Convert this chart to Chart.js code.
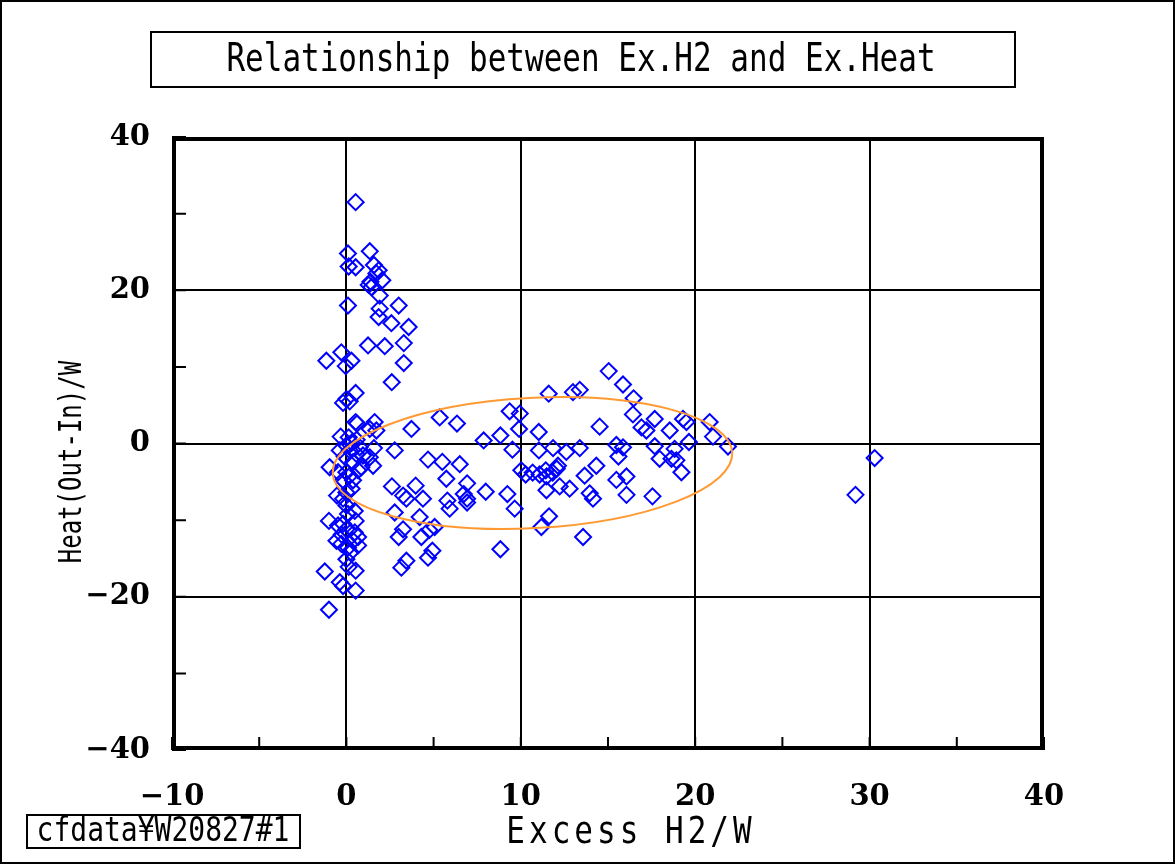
<!DOCTYPE html>
<html>
<head>
<meta charset="utf-8">
<script src="https://cdn.jsdelivr.net/npm/chart.js@4/dist/chart.umd.min.js"></script>
<style>
  html, body { margin: 0; padding: 0; background: #ffffff; }
  #wrap { width: 1175px; height: 864px; position: relative; }
</style>
</head>
<body>
<div id="wrap"><canvas id="c" width="1175" height="864"></canvas></div>
<script>
// ---- data ----
const excessH2 = [
  0.53, 0.09, 1.34, 0.13, 0.53, 1.58, 1.85, 1.72, 2.06, 1.38,
  1.28, 1.43, 1.91, 0.09, 3.0, 1.91, 1.85, 2.58, 3.57, 1.24,
  2.2, 3.29, -0.29, -1.15, 0.29, -0.04, 3.29, 2.6, 0.53, 0.0,
  -0.19, 0.19, 0.53, 0.61, 1.62, 1.34, 1.72, 3.73, 1.58, 2.77,
  4.68, 1.53, -0.96, 2.61, 3.97, 3.25, 3.44, 4.39, 2.77, 4.2,
  5.06, 3.25, 3.0, 4.3, 4.93, 4.68, 3.44, 3.15, -1.0, -1.24,
  0.53, -0.38, -0.19, 0.53, -1.0, 0.0, 0.19, -0.38, 0.57, 0.95,
  0.38, 1.34, -0.48, 0.0, 0.19, -0.19, 0.38, 0.67, 0.86, -0.54,
  -0.19, 0.0, 0.48, 0.09, -0.48, -0.19, 0.0, 0.48, 0.67, -0.57,
  -0.29, 0.09, 0.38, 0.67, 0.0, 0.13, 0.3, 0.76, -0.33, 0.59,
  -0.1, 0.3, 0.0, 0.53, -0.27, 0.25, 0.13,
  11.6, 9.36, 9.94, 9.9, 11.03, 5.35, 6.34, 7.87, 8.83, 9.52,
  11.04, 5.5, 6.5, 5.73, 6.92, 10.03, 10.68, 11.08, 11.48, 11.83,
  12.06, 11.43, 10.28, 11.47, 7.99, 9.23, 9.65, 6.73, 6.92, 6.92,
  5.79, 5.92, 4.75, 8.83, 11.62, 11.18,
  15.04, 15.86, 13.38, 12.99, 16.47, 16.43, 17.68, 19.3, 19.5, 20.83,
  14.52, 16.92, 17.2, 18.54, 21.02, 19.64, 15.48, 15.86, 17.68, 18.82,
  21.88, 13.38, 11.85, 12.61, 15.6, 17.96, 18.64, 18.92, 19.21, 14.33,
  13.66, 12.13, 15.48, 16.06, 12.8, 13.95, 14.14, 12.23, 16.06, 17.55,
  13.57, 30.29, 29.19
];
const excessHeat = [
  31.5, 24.8, 25.1, 23.1, 23.0, 23.3, 22.6, 22.2, 21.3, 21.1,
  20.7, 20.4, 19.3, 18.0, 18.0, 17.6, 16.5, 15.7, 15.2, 12.8,
  12.7, 13.1, 11.9, 10.8, 10.8, 10.1, 10.5, 8.0, 6.6, 5.8,
  5.3, 5.5, 2.8, 2.6, 2.8, 1.9, 1.7, 1.9, -0.6, -0.9,
  -2.1, -2.9, -3.1, -5.6, -5.5, -6.8, -7.2, -7.2, -9.0, -9.6,
  -10.9, -11.2, -12.2, -12.2, -14.0, -14.9, -15.3, -16.2, -10.1, -16.7,
  -16.6, -18.1, -18.6, -19.2, -21.7, -0.26, -0.9, -0.9, -1.35, -1.57,
  -2.44, -1.8, -3.75, -3.75, -4.2, -4.8, -4.8, -3.5, -3.1, -6.8,
  -7.2, -8.1, -8.8, -9.2, -10.7, -10.5, -11.2, -11.6, -12.2, -12.7,
  -13.1, -13.6, -12.7, -13.3, -15.1, 0.8, 0.1, -0.5, 0.9, 0.5,
  -1.7, -5.9, -6.4, -10.1, -11.9, -14.2, -16.1,
  6.5, 4.2, 3.9, 1.9, 1.5, 3.4, 2.6, 0.4, 1.05, -0.8,
  -0.9, -2.4, -2.7, -4.6, -5.2, -3.5, -3.8, -4.05, -4.3, -3.8,
  -3.3, -3.5, -4.05, -6.1, -6.3, -6.6, -8.5, -6.6, -7.2, -7.7,
  -7.45, -8.5, -11.3, -13.8, -9.5, -10.9,
  9.45, 7.7, 7.0, 6.7, 5.9, 3.8, 3.2, 3.2, 2.8, 2.8,
  2.2, 2.1, 1.7, 1.7, 0.9, 0.2, -0.2, -0.5, -0.35, -0.7,
  -0.4, -0.6, -0.6, -1.1, -1.7, -2.0, -2.0, -2.2, -3.75, -2.9,
  -4.2, -2.9, -4.75, -4.3, -5.9, -6.5, -7.2, -5.6, -6.7, -6.9,
  -12.2, -1.9, -6.7
];
const xTickValues = [-10, 0, 10, 20, 30, 40];
const yTickValues = [-40, -20, 0, 20, 40];
const chartTitle = 'Relationship between Ex.H2 and Ex.Heat';
const xAxisTitle = 'Excess H2/W';
const yAxisTitle = 'Heat(Out-In)/W';
const fileLabel = 'cfdata\u00A5W20827#1';
// hand-drawn ellipse (data units): centre, semi-axes, tilt in degrees
const ellipseCentre = [10.67, -2.55];
const ellipseSemiAxes = [11.47, 8.5];
const ellipseTiltDeg = -3;

// ---- chart ----
const points = excessH2.map((x, i) => ({ x: x, y: excessHeat[i] }));
const fmt = v => (v < 0 ? '\u2212' + Math.abs(v) : String(v));

function stretchedText(ctx, text, x, y, font, sy, rot, spacing) {
  ctx.save();
  ctx.translate(x, y);
  if (rot) ctx.rotate(rot);
  ctx.scale(1, sy);
  ctx.font = font;
  if (spacing) { try { ctx.letterSpacing = spacing + 'px'; } catch (e) {} }
  ctx.textAlign = 'center';
  ctx.textBaseline = 'middle';
  ctx.fillStyle = '#000';
  ctx.fillText(text, 0, 0);
  ctx.restore();
}

const decorPlugin = {
  id: 'decor',
  beforeDraw(chart) {
    const ctx = chart.ctx;
    ctx.save();
    ctx.fillStyle = '#ffffff';
    ctx.fillRect(0, 0, chart.width, chart.height);
    ctx.restore();
  },
  afterDatasetsDraw(chart) {
    const ctx = chart.ctx;
    const xs = chart.scales.x, ys = chart.scales.y;
    const a = chart.chartArea;
    // ellipse
    const cx = xs.getPixelForValue(ellipseCentre[0]);
    const cy = ys.getPixelForValue(ellipseCentre[1]);
    const rx = Math.abs(xs.getPixelForValue(ellipseCentre[0] + ellipseSemiAxes[0]) - cx);
    const ry = Math.abs(ys.getPixelForValue(ellipseCentre[1] + ellipseSemiAxes[1]) - cy);
    ctx.save();
    ctx.beginPath();
    ctx.ellipse(cx, cy, rx, ry, ellipseTiltDeg * Math.PI / 180, 0, Math.PI * 2);
    ctx.strokeStyle = '#FF9A33';
    ctx.lineWidth = 2;
    ctx.stroke();
    ctx.restore();

    // frame
    ctx.save();
    ctx.strokeStyle = '#000';
    ctx.lineWidth = 4;
    ctx.strokeRect(a.left + 2, a.top + 2, a.right - a.left - 4, a.bottom - a.top - 4);
    // inward tick marks
    ctx.lineWidth = 2;
    ctx.beginPath();
    for (let v = -10; v <= 40; v += 5) {
      const px = xs.getPixelForValue(v);
      ctx.moveTo(px, a.bottom);
      ctx.lineTo(px, a.bottom - 13);
    }
    for (let v = -40; v <= 40; v += 10) {
      const py = ys.getPixelForValue(v);
      ctx.moveTo(a.left, py);
      ctx.lineTo(a.left + 14, py);
    }
    ctx.stroke();
    ctx.restore();
  },
  afterDraw(chart) {
    const ctx = chart.ctx;
    ctx.save();
    // outer border
    ctx.strokeStyle = '#000';
    ctx.lineWidth = 2;
    ctx.strokeRect(1, 1, chart.width - 2, chart.height - 2);
    // title box
    ctx.lineWidth = 2;
    ctx.strokeRect(151, 32, 864, 55);
    ctx.restore();
    stretchedText(ctx, chartTitle, 581, 61, '31px "DejaVu Sans Mono"', 1.28, 0);
    // file label box
    ctx.save();
    ctx.strokeStyle = '#000';
    ctx.lineWidth = 2;
    ctx.strokeRect(27, 815, 273, 33);
    ctx.restore();
    stretchedText(ctx, fileLabel, 163, 832, '28px "DejaVu Sans Mono"', 1.2, 0);
    // axis titles
    stretchedText(ctx, xAxisTitle, 631, 833, '31px "DejaVu Sans Mono"', 1.2, 0, 4);
    stretchedText(ctx, yAxisTitle, 73, 462, '24px "DejaVu Sans Mono"', 1.35, -Math.PI / 2);
  }
};

new Chart(document.getElementById('c'), {
  type: 'scatter',
  data: {
    datasets: [{
      data: points,
      pointStyle: 'rectRot',
      pointRadius: 8,
      pointHoverRadius: 8,
      borderColor: '#0000FF',
      backgroundColor: 'rgba(0,0,0,0)',
      borderWidth: 2,
      pointBorderWidth: 2
    }]
  },
  options: {
    responsive: false,
    animation: false,
    devicePixelRatio: 1,
    layout: { padding: { top: 137, right: 131, left: 0, bottom: 0 } },
    plugins: { legend: { display: false }, tooltip: { enabled: false }, title: { display: false } },
    events: [],
    scales: {
      x: {
        type: 'linear', min: -10, max: 40,
        afterBuildTicks: s => { s.ticks = xTickValues.map(v => ({ value: v })); },
        afterFit: s => { s.height = 114; },
        border: { display: false },
        grid: {
          drawTicks: false,
          lineWidth: 2,
          color: c => (c.tick && (c.tick.value === -10 || c.tick.value === 40)) ? 'rgba(0,0,0,0)' : '#000'
        },
        ticks: {
          padding: 30,
          color: '#000',
          font: { family: '"DejaVu Serif"', size: 29, weight: 'bold' },
          callback: v => fmt(v)
        }
      },
      y: {
        type: 'linear', min: -40, max: 40,
        afterBuildTicks: s => { s.ticks = yTickValues.map(v => ({ value: v })); },
        afterFit: s => { s.width = 172; },
        border: { display: false },
        grid: {
          drawTicks: false,
          lineWidth: 2,
          color: c => (c.tick && (c.tick.value === -40 || c.tick.value === 40)) ? 'rgba(0,0,0,0)' : '#000'
        },
        ticks: {
          padding: 22,
          color: '#000',
          font: { family: '"DejaVu Serif"', size: 29, weight: 'bold' },
          callback: v => fmt(v)
        }
      }
    }
  },
  plugins: [decorPlugin]
});
</script>
</body>
</html>
